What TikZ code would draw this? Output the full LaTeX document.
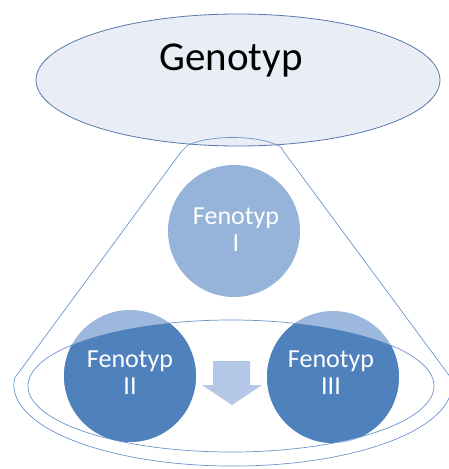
\documentclass[tikz,border=0pt]{standalone}
\usepackage{fontspec}
\setmainfont{Carlito}
\usetikzlibrary{shapes.geometric}
\definecolor{genfill}{HTML}{E9EDF6}
\definecolor{genline}{HTML}{5878B0}
\definecolor{coneline}{HTML}{6A93CE}
\definecolor{fenlight}{HTML}{9DB8DD}
\definecolor{fenone}{HTML}{96B3D9}
\definecolor{fendark}{HTML}{4F81BD}
\definecolor{arrowfill}{HTML}{B4C7E7}
\tikzset{
  fencircle/.style={circle, minimum size=132pt, inner sep=0pt, draw=none},
  fentext/.style={text=white, font=\fontsize{26}{27}\selectfont, align=center, inner sep=0pt},
  outline/.style={draw=coneline, line width=0.7pt},
}
\begin{document}
\begin{tikzpicture}[x=1pt, y=-1pt]
\useasboundingbox (0,0) rectangle (448,469);

% genotype ellipse
\node[ellipse, draw=genline, line width=0.8pt, fill=genfill, minimum width=404pt, minimum height=132pt, inner sep=0pt]
  (geno) at (238,80) {};
\node[font=\fontsize{41}{43}\selectfont, anchor=base, inner sep=0pt] (genolabel) at (231,70) {Genotyp};

% funnel outline
\draw[outline] (188,145) .. controls (210,135) and (256,135) .. (277,145)
  .. controls (281,147) .. (284,152) -- (451,378)
  arc[start angle=-5, end angle=185, x radius=219, y radius=81]
  -- (181,152) .. controls (184,148) .. (188,145) -- cycle;

% inner ellipse
\draw[outline] (231,386) ellipse [x radius=203, y radius=66];

% phenotype I
\node[fencircle, fill=fenone] (f1) at (234,231) {};
\node[fentext] (t1) at (236,230) {Fenotyp\\I};

% phenotypes II and III
\node[fencircle, fill=fenlight] (f2) at (130,376) {};
\node[fencircle, fill=fenlight] (f3) at (333,377) {};
\begin{scope}
  \clip (231,386) ellipse [x radius=203, y radius=66];
  \fill[fendark] (f2.center) circle (66pt);
  \fill[fendark] (f3.center) circle (66pt);
\end{scope}
\node[fentext] (t2) at (130,373) {Fenotyp\\II};
\node[fentext] (t3) at (331,373) {Fenotyp\\III};

% arrow between II and III
\fill[arrowfill] (213,361) -- (250,361) -- (250,385) -- (262,385) -- (232,405)
  -- (202,385) -- (213,385) -- cycle;
\end{tikzpicture}
\end{document}
